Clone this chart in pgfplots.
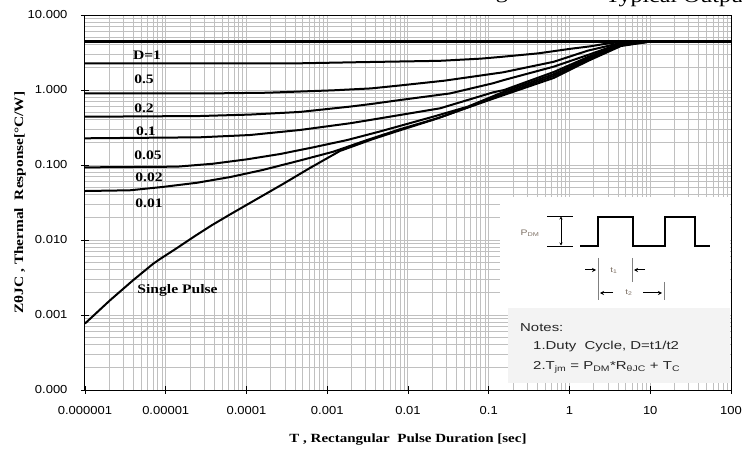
\documentclass[border=0pt]{standalone}
\usepackage{fontspec}
\setmainfont{Liberation Serif}
\newfontfamily\tickfont[FakeStretch=1.12]{Liberation Sans}
\newfontfamily\labfont[FakeStretch=1.2]{Liberation Serif}
\newfontfamily\notefont[FakeStretch=1.3]{Liberation Sans}
\usepackage{pgfplots}
\pgfplotsset{compat=1.18}
\usetikzlibrary{arrows.meta}
\definecolor{gridc}{RGB}{192,192,192}
\definecolor{notebg}{RGB}{243,243,243}
\definecolor{smalltxt}{RGB}{125,112,100}
\begin{document}
\begin{tikzpicture}
\begin{axis}[
  at={(85bp,64bp)}, anchor=south west,
  scale only axis, width=646bp, height=375bp,
  xmode=log, ymode=log,
  xmin=1e-6, xmax=100, ymin=1e-4, ymax=10,
  xtick={1e-6,1e-5,1e-4,1e-3,1e-2,1e-1,1,10,100},
  xticklabels={0.000001,0.00001,0.0001,0.001,0.01,0.1,1,10,100},
  ytick={1e-4,1e-3,1e-2,1e-1,1,10},
  yticklabels={0.000,0.001,0.010,0.100,1.000,10.000},
  minor xtick={2e-6,3e-6,4e-6,5e-6,6e-6,7e-6,8e-6,9e-6,
    2e-5,3e-5,4e-5,5e-5,6e-5,7e-5,8e-5,9e-5,
    2e-4,3e-4,4e-4,5e-4,6e-4,7e-4,8e-4,9e-4,
    2e-3,3e-3,4e-3,5e-3,6e-3,7e-3,8e-3,9e-3,
    0.02,0.03,0.04,0.05,0.06,0.07,0.08,0.09,
    0.2,0.3,0.4,0.5,0.6,0.7,0.8,0.9,
    2,3,4,5,6,7,8,9,20,30,40,50,60,70,80,90},
  minor ytick={2e-4,3e-4,4e-4,5e-4,6e-4,7e-4,8e-4,9e-4,
    2e-3,3e-3,4e-3,5e-3,6e-3,7e-3,8e-3,9e-3,
    0.02,0.03,0.04,0.05,0.06,0.07,0.08,0.09,
    0.2,0.3,0.4,0.5,0.6,0.7,0.8,0.9,
    2,3,4,5,6,7,8,9},
  grid=both,
  major grid style={gridc, line width=1bp},
  minor grid style={gridc, line width=0.9bp},
  xtick pos=bottom, ytick pos=left,
  tick align=center, major tick length=8bp, minor tick length=0pt,
  every tick/.style={black, line width=0.8bp},
  axis line style={black, line width=1bp},
  tick label style={font=\tickfont\fontsize{11.6bp}{13bp}\selectfont},
  xticklabel style={yshift=-9bp},
  yticklabel style={xshift=-10bp},
  xlabel={T , Rectangular\ \ Pulse Duration [sec]},
  ylabel={ZθJC , Thermal\ \ Response[°C/W]},
  every axis x label/.style={at={(rel axis cs:0.5,-0.1333)}, anchor=center,
    font=\labfont\bfseries\fontsize{12.5bp}{15bp}\selectfont},
  every axis y label/.style={at={(rel axis cs:-0.1006,0.5)}, anchor=center, rotate=90,
    font=\labfont\bfseries\fontsize{12.8bp}{15bp}\selectfont},
]
% D=1 (steady state)
\addplot[black, line width=3bp] coordinates {(1e-6,4.45) (100,4.45)};
% D=0.5
\addplot[black, line width=2bp] coordinates {(1e-6,2.27) (4.6e-4,2.27) (2.55e-3,2.35) (0.0249,2.45) (0.08,2.62) (0.14,2.76) (0.41,3.08) (1.04,3.55) (1.8,3.82) (2.67,4.1) (4.3,4.38) (6.5,4.45) (100,4.45)};
% D=0.2
\addplot[black, line width=2bp] coordinates {(1e-6,0.9) (3.5e-5,0.9) (1.8e-4,0.92) (1.18e-3,0.99) (3.48e-3,1.05) (7.96e-3,1.15) (0.028,1.33) (0.15,1.72) (0.64,2.38) (1.69,3.35) (4.34,4.25) (7.5,4.45) (100,4.45)};
% D=0.1
\addplot[black, line width=2bp] coordinates {(1e-6,0.44) (2.65e-5,0.45) (1.1e-4,0.47) (4.6e-4,0.51) (1.9e-3,0.6) (3.48e-3,0.65) (7.96e-3,0.735) (0.0331,0.9) (0.113,1.23) (0.155,1.36) (0.64,2.05) (1.69,2.93) (4.34,4.2) (8,4.45) (100,4.45)};
% D=0.05
\addplot[black, line width=2bp] coordinates {(1e-6,0.227) (2.65e-5,0.234) (1.1e-4,0.251) (4.6e-4,0.293) (1.91e-3,0.36) (3.48e-3,0.40) (7.96e-3,0.464) (0.025,0.57) (0.113,0.93) (0.155,1.0) (0.64,1.74) (1.69,2.75) (4.34,4.11) (9.9,4.42) (100,4.45)};
% D=0.02
\addplot[black, line width=2bp] coordinates {(1e-6,0.093) (1.38e-5,0.095) (3.85e-5,0.104) (1.01e-4,0.119) (2.6e-4,0.14) (6.7e-4,0.172) (1.76e-3,0.215) (4.5e-3,0.28) (0.0204,0.44) (0.055,0.6) (0.155,0.95) (0.64,1.63) (1.69,2.63) (4.34,3.98) (9.9,4.42) (100,4.45)};
% D=0.01
\addplot[black, line width=2bp] coordinates {(1e-6,0.045) (3.6e-6,0.046) (9.2e-6,0.051) (2.44e-5,0.058) (6.25e-5,0.069) (1.6e-4,0.086) (4.2e-4,0.112) (1.18e-3,0.15) (3.1e-3,0.215) (7.96e-3,0.3) (0.025,0.43) (0.064,0.62) (0.155,0.9) (0.64,1.54) (1.69,2.51) (4.34,3.92) (9.9,4.42) (100,4.45)};
% single pulse
\addplot[black, line width=2bp] coordinates {(1e-6,0.00077) (2.04e-6,0.00157) (3.93e-6,0.0029) (6.95e-6,0.0048) (8.5e-6,0.00558) (1.38e-5,0.00782) (2.3e-5,0.0113) (3.74e-5,0.0158) (6.25e-5,0.0219) (1.1e-4,0.0311) (2.83e-4,0.0558) (6.1e-4,0.0912) (1.44e-3,0.154) (3.69e-3,0.222) (7.96e-3,0.29) (0.0204,0.40) (0.0538,0.58) (0.155,0.86) (0.64,1.45) (1.69,2.44) (4.34,3.86) (9.9,4.42) (100,4.45)};
\begin{scope}[every node/.style={font=\labfont\bfseries\fontsize{13bp}{15bp}\selectfont}]
\node at (axis cs:5.86e-6,2.93) {D=1};
\node at (axis cs:5.38e-6,1.40) {0.5};
\node at (axis cs:5.38e-6,0.57) {0.2};
\node at (axis cs:5.69e-6,0.278) {0.1};
\node at (axis cs:6.03e-6,0.136) {0.05};
\node at (axis cs:6.2e-6,0.0678) {0.02};
\node at (axis cs:6.2e-6,0.0308) {0.01};
\node at (axis cs:1.4e-5,0.00215) {Single Pulse};
\end{scope}
\end{axis}
% inset box (coordinates in bp from the lower-left page corner)
\begin{scope}[x=1bp, y=1bp]
\fill[white] (500,146) rectangle (730,257);
\fill[notebg] (508,71) rectangle (730,146);
% P_DM bracket
\draw[black, line width=0.9bp] (547,238) -- (573,238);
\draw[black, line width=0.9bp] (547,208) -- (573,208);
\draw[black, line width=0.9bp, {Stealth[length=3bp,width=3bp]}-{Stealth[length=3bp,width=3bp]}] (561,237.5) -- (561,208.5);
\node[font=\notefont\fontsize{8bp}{9bp}\selectfont, text=smalltxt] at (530,221) {P\textsubscript{DM}};
% waveform
\draw[black, line width=2bp] (580,208) -- (598,208) -- (598,237) -- (633,237) -- (633,208) -- (665,208) -- (665,237) -- (695,237) -- (695,208) -- (710,208);
% t1 and t2 markers
\draw[gray, line width=1bp] (598,196) -- (598,154);
\draw[gray, line width=1bp] (632,196) -- (632,172);
\draw[gray, line width=1bp] (664,172) -- (664,154);
\draw[black, line width=1bp, -{Stealth[length=4bp,width=4bp]}] (585,184) -- (596,184);
\draw[black, line width=1bp, -{Stealth[length=4bp,width=4bp]}] (645,184) -- (634,184);
\node[font=\notefont\fontsize{7.5bp}{9bp}\selectfont, text=smalltxt] at (614,183) {t\textsubscript{1}};
\draw[black, line width=1bp, -{Stealth[length=4bp,width=4bp]}] (613,161) -- (600,161);
\draw[black, line width=1bp, -{Stealth[length=4bp,width=4bp]}] (643,161) -- (662,161);
\node[font=\notefont\fontsize{7.5bp}{9bp}\selectfont, text=smalltxt] at (629,161) {t\textsubscript{2}};
% notes
\begin{scope}[every node/.style={font=\notefont\fontsize{11.5bp}{13bp}\selectfont, text={black!85}, anchor=west, inner sep=0pt}]
\node at (520,126) {Notes:};
\node at (533,107) {1.Duty\ \ Cycle, D=t1/t2};
\node at (533,87) {2.T\textsubscript{jm} = P\textsubscript{DM}*R\textsubscript{θJC} + T\textsubscript{C}};
\end{scope}
% title, cut by the top edge
\node[font=\labfont\fontsize{20bp}{22bp}\selectfont, anchor=base east, inner sep=0pt] at (750,451) {Typical Output};
\node[font=\labfont\fontsize{20bp}{22bp}\selectfont, anchor=base east, inner sep=0pt] at (508,455) {Rating};
\end{scope}
\pgfresetboundingbox
\path[use as bounding box] (0,0) rectangle (742bp,454bp);
\end{tikzpicture}
\end{document}
